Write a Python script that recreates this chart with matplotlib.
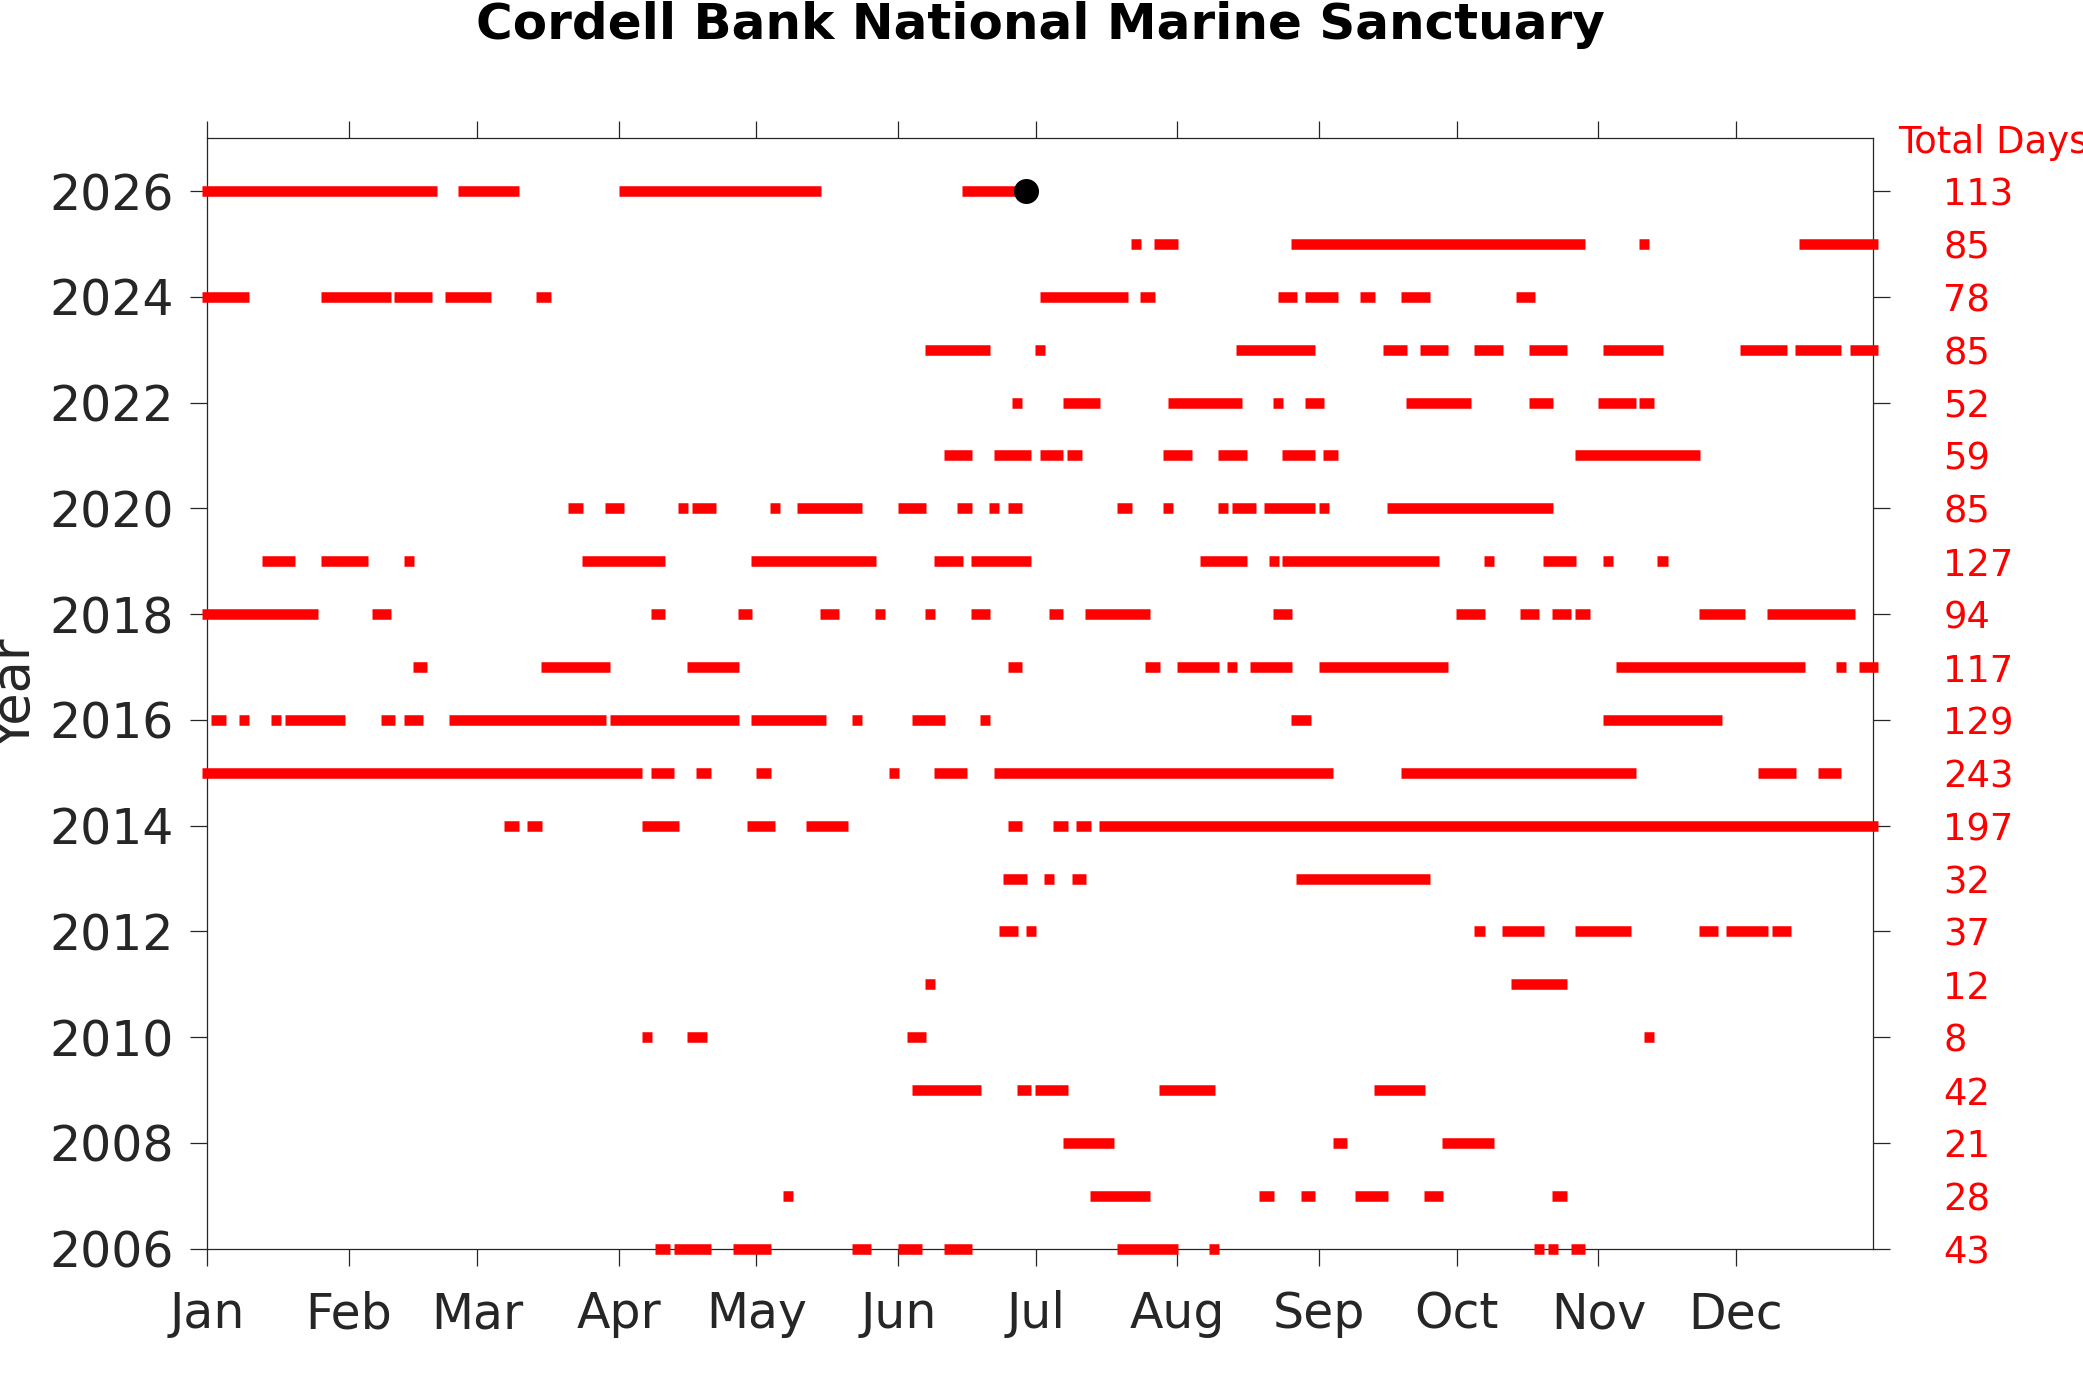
import matplotlib
matplotlib.use("Agg")
import matplotlib.pyplot as plt
import matplotlib.transforms as mtransforms

# ---------------- data (day-of-year runs per year) ----------------
years = list(range(2006, 2027))
total_days = [43, 28, 21, 42, 8, 12, 37, 32, 197, 243, 129, 117, 94, 127, 85, 59, 52, 85, 78, 85, 113]

y2006 = [(100, 101), (104, 110), (117, 123), (143, 145), (153, 156), (163, 167), (201, 212), (221, 221),
         (292, 292), (295, 295), (300, 301)]
y2007 = [(128, 128), (195, 206), (232, 233), (241, 242), (253, 258), (268, 270), (296, 297)]
y2008 = [(189, 198), (248, 249), (272, 281)]
y2009 = [(156, 169), (179, 180), (183, 188), (210, 220), (257, 266)]
y2010 = [(97, 97), (107, 109), (155, 157), (316, 316)]
y2011 = [(159, 159), (287, 297)]
y2012 = [(175, 177), (181, 181), (279, 279), (285, 292), (301, 311), (328, 330), (334, 341), (344, 346)]
y2013 = [(176, 179), (185, 185), (191, 192), (240, 267)]
y2014 = [(67, 68), (72, 73), (97, 103), (120, 124), (133, 140), (177, 178), (187, 188), (192, 193), (197, 365)]
y2015 = [(1, 95), (99, 102), (109, 110), (122, 123), (151, 151), (161, 166), (174, 246), (263, 312),
         (341, 347), (354, 357)]
y2016 = [(3, 4), (9, 9), (16, 16), (19, 30), (40, 41), (45, 47), (55, 87), (90, 116), (121, 135), (143, 143),
         (156, 161), (171, 171), (239, 241), (307, 331)]
y2017 = [(47, 48), (75, 88), (107, 116), (177, 178), (207, 208), (214, 221), (225, 225), (230, 237),
         (245, 271), (310, 349), (358, 358), (363, 365)]
y2018 = [(1, 24), (38, 40), (99, 100), (118, 119), (136, 138), (148, 148), (159, 159), (169, 171), (186, 187),
         (194, 206), (235, 237), (275, 279), (289, 291), (296, 298), (301, 302), (328, 336), (343, 360)]
y2019 = [(14, 19), (27, 35), (45, 45), (84, 100), (121, 146), (161, 165), (169, 180), (219, 227), (234, 234),
         (237, 269), (281, 281), (294, 299), (307, 307), (319, 319)]
y2020 = [(81, 82), (89, 91), (105, 105), (108, 111), (125, 125), (131, 143), (153, 157), (166, 167),
         (173, 173), (177, 178), (201, 202), (211, 211), (223, 223), (226, 229), (233, 242), (245, 245),
         (260, 294)]
y2021 = [(163, 167), (174, 180), (184, 187), (190, 191), (211, 215), (223, 227), (237, 242), (246, 247),
         (301, 326)]
y2022 = [(178, 178), (189, 195), (212, 226), (235, 235), (242, 244), (264, 276), (291, 294), (306, 312),
         (315, 316)]
y2023 = [(159, 171), (183, 183), (227, 242), (259, 262), (267, 271), (279, 283), (291, 297), (307, 318),
         (337, 345), (349, 357), (361, 365)]
y2024 = [(1, 9), (27, 40), (43, 49), (54, 62), (74, 75), (184, 201), (206, 207), (236, 238), (242, 247),
         (254, 255), (263, 267), (288, 290)]
y2025 = [(204, 204), (209, 212), (239, 301), (315, 315), (350, 365)]
y2026 = [(1, 50), (57, 68), (92, 134), (167, 180)]

latest_day = 180
latest_year = 2026

month_labels = ["Jan", "Feb", "Mar", "Apr", "May", "Jun", "Jul", "Aug", "Sep", "Oct", "Nov", "Dec"]
month_start_doy = [1, 32, 60, 91, 121, 152, 182, 213, 244, 274, 305, 335]

title = "Cordell Bank National Marine Sanctuary"

runs_by_year = [y2006, y2007, y2008, y2009, y2010, y2011, y2012, y2013, y2014, y2015, y2016,
                y2017, y2018, y2019, y2020, y2021, y2022, y2023, y2024, y2025, y2026]

# ---------------- figure ----------------
GRAY = "#262626"
fig = plt.figure(figsize=(2083 / 200, 1389 / 200), dpi=200)
ax = fig.add_axes([0.0995, 0.101, 0.7997, 0.7995])

# half the bar thickness expressed in days (square-ended bars, single days become squares)
cap = 1.1
for yr, runs in zip(years, runs_by_year):
    for s, e in runs:
        ax.plot([s - cap, e + cap], [yr, yr], color="#ff0000", lw=3.8, solid_capstyle="butt",
                clip_on=False, zorder=3)

ax.plot([latest_day], [latest_year], "o", color="black", markersize=8, clip_on=False, zorder=4)

ax.set_xlim(1, 365)
ax.set_ylim(2006, 2027)
ax.set_xticks(month_start_doy)
ax.set_xticklabels(month_labels)
ax.set_yticks(list(range(2006, 2027, 2)))

for sp in ax.spines.values():
    sp.set_color(GRAY)
    sp.set_linewidth(0.45)

ax.tick_params(axis="both", direction="out", length=6, width=0.45, colors=GRAY,
               labelsize=17.6, top=True, right=True, labeltop=False, labelright=False)
ax.tick_params(axis="x", pad=9)
ax.tick_params(axis="y", pad=6)

trans = mtransforms.blended_transform_factory(ax.transAxes, ax.transData)
for yr, tot in zip(years, total_days):
    ax.text(1.0423, yr, str(tot), transform=trans, ha="left", va="center_baseline",
            color="#ff0000", fontsize=13.3, clip_on=False)
ax.text(1.0151, 2027, "Total Days", transform=trans, ha="left", va="center_baseline",
        color="#ff0000", fontsize=13.3, clip_on=False)

fig.text(0.0074, 0.5, "Year", rotation=90, ha="center", va="center", fontsize=19, color=GRAY)
fig.text(0.4993, 0.982, title, ha="center", va="center", fontsize=18, fontweight="bold", color="black")

fig.savefig("out.png", dpi=200)
